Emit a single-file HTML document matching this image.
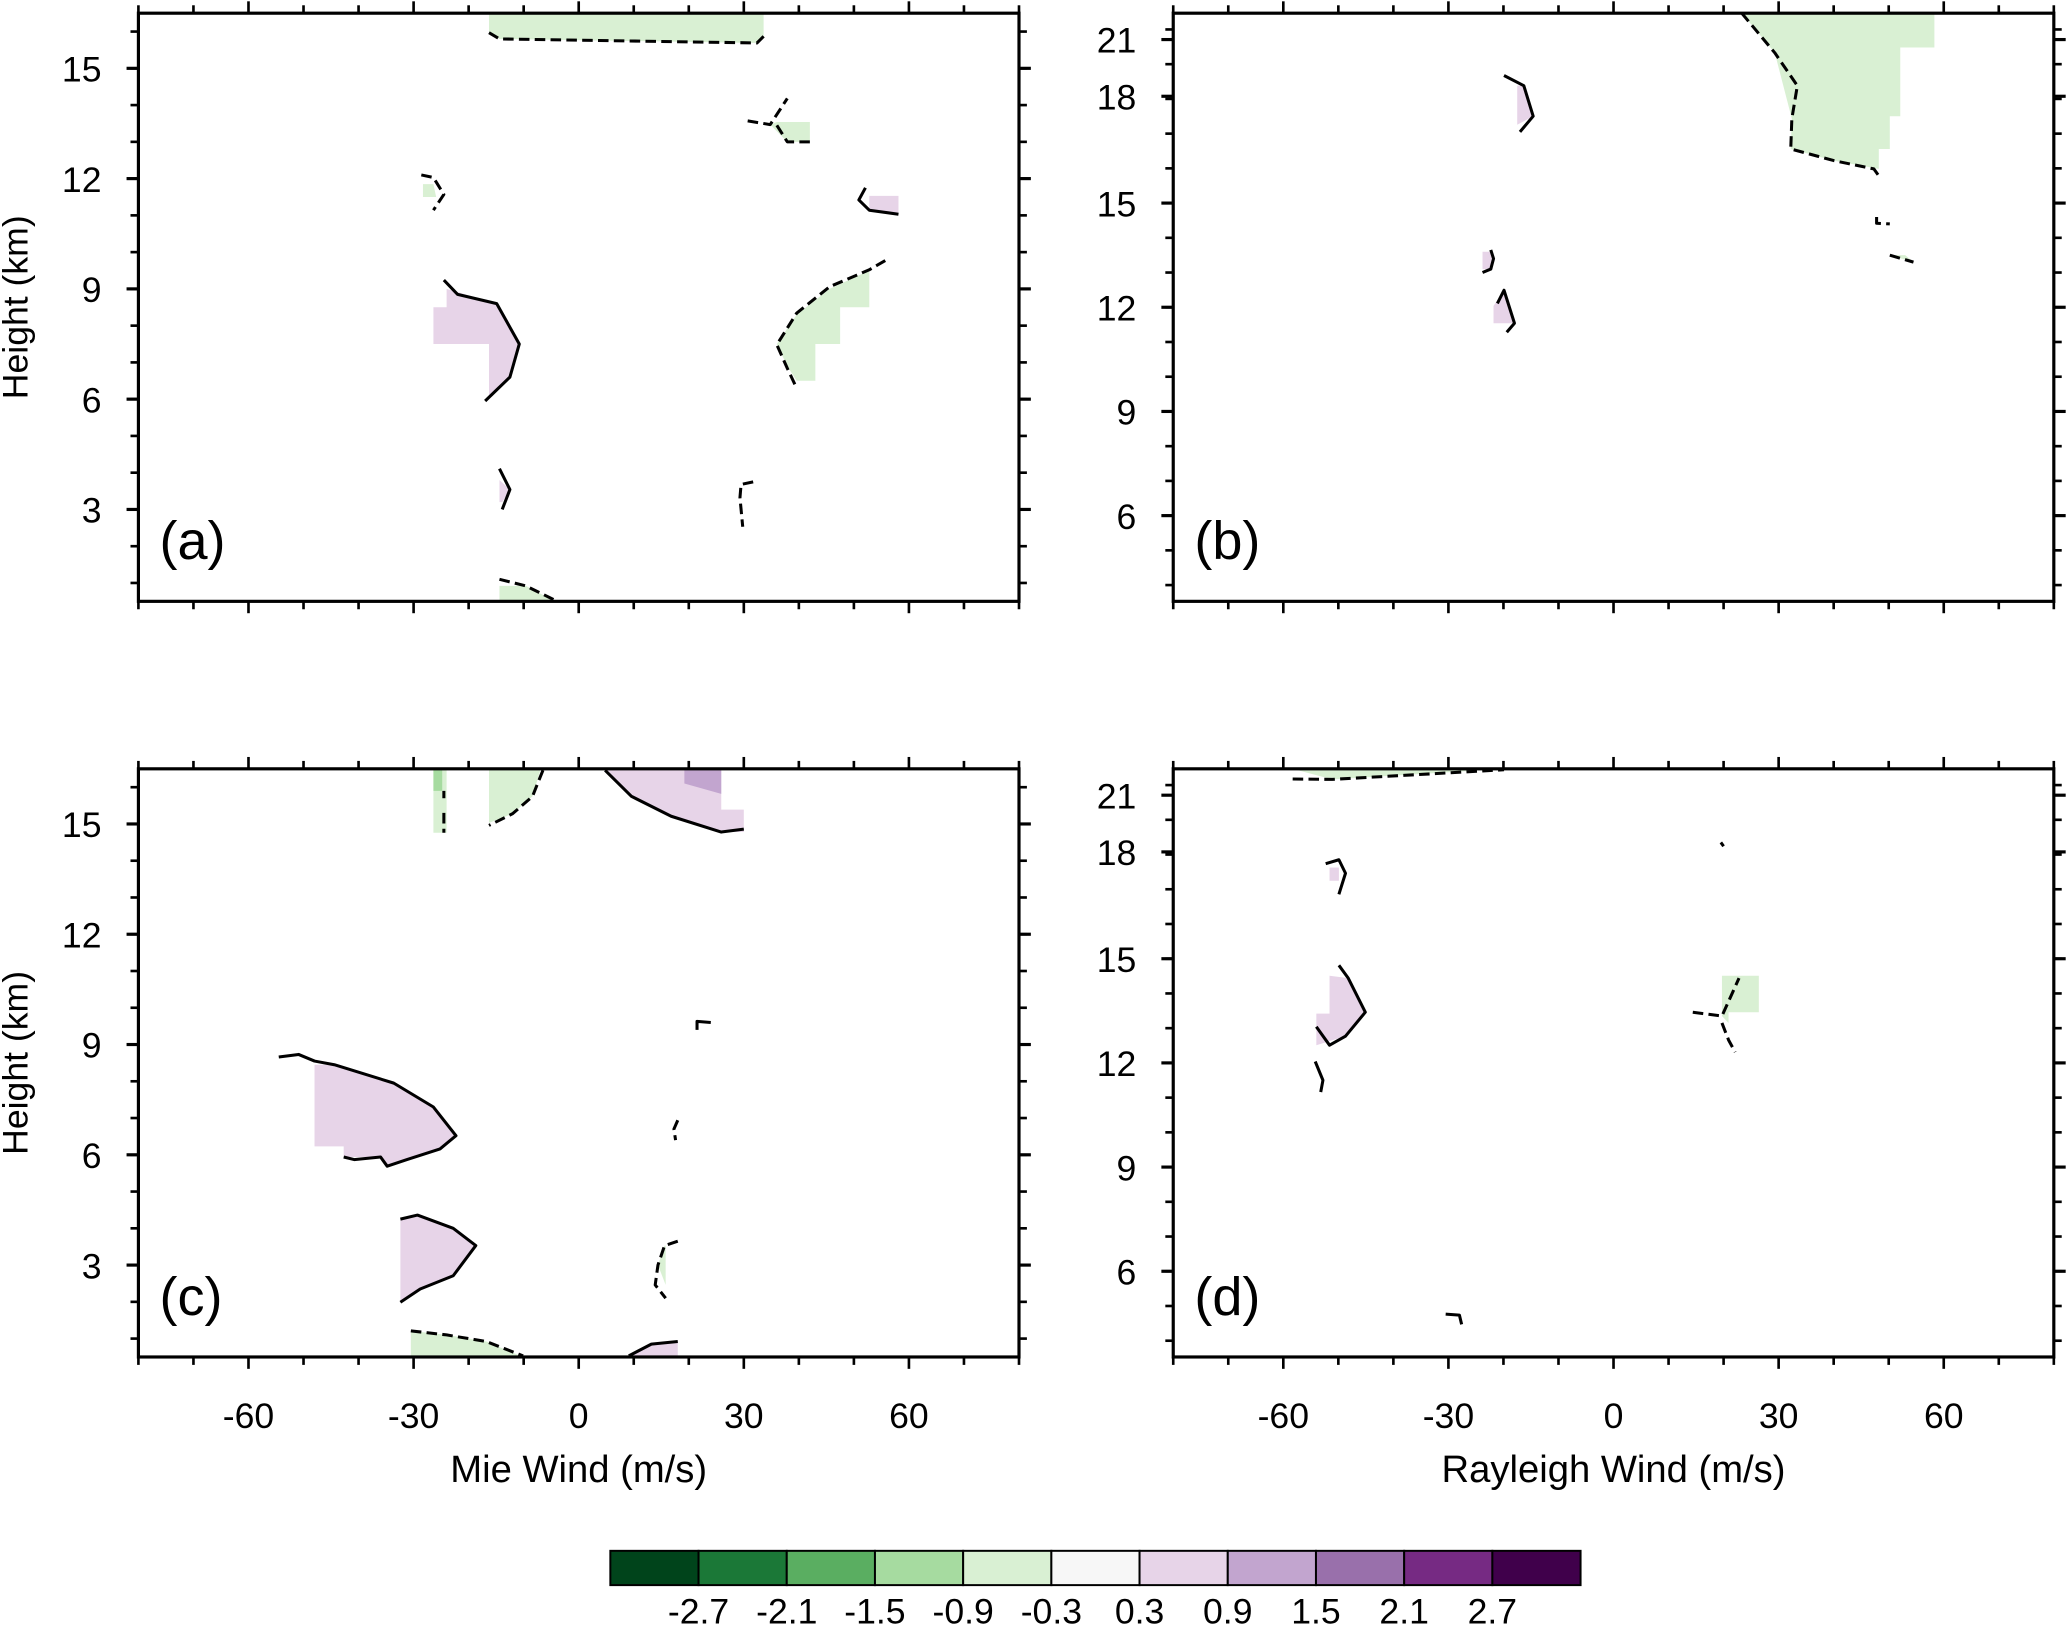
<!DOCTYPE html>
<html><head><meta charset="utf-8"><style>
html,body{margin:0;padding:0;background:#fff;}
svg{display:block;font-family:"Liberation Sans",sans-serif;}
</style></head><body>
<svg id="fig" width="2067" height="1626" viewBox="0 0 1568 1233" preserveAspectRatio="none" xmlns="http://www.w3.org/2000/svg"></svg>
<script>
// ---- data ----
const xTicks = [-60,-30,0,30,60];
const yTicksMie = [3,6,9,12,15];
const yTicksRay = [6,9,12,15,18,21];
const rayHeights = [3.5,6,9,12,15,18,21,22.4];
const cbLabels = ["-2.7","-2.1","-1.5","-0.9","-0.3","0.3","0.9","1.5","2.1","2.7"];
const cbColors = ["#00441b","#1b7837","#5aae61","#a6dba0","#d9f0d3","#f7f7f7","#e7d4e8","#c2a5cf","#9970ab","#762a83","#40004b"];
const G="#d9f0d3", P="#e7d4e8", G2="#a6dba0", P2="#c2a5cf";
const shapesA = [
 {c:G,f:[[-16.3,16.5],[33.6,16.5],[33.6,15.87],[32.4,15.69],[-14.4,15.8],[-16.3,15.97]],l:[[-16.3,15.97],[-14.4,15.8],[32.4,15.69],[33.6,15.87]],d:1},
 {c:P,f:[[-26.4,8.5],[-24,8.5],[-24,9.0],[-14.9,8.6],[-10.8,7.5],[-12.5,6.6],[-16.3,6.0],[-16.3,7.5],[-26.4,7.5]],l:[[-24.5,9.24],[-22,8.85],[-14.9,8.6],[-10.8,7.5],[-12.5,6.6],[-17,5.95]],d:0},
 {c:G,f:[[36,7.5],[39.6,8.3],[45.6,9.0],[52.8,9.5],[52.8,8.5],[47.5,8.5],[47.5,7.5],[43,7.5],[43,6.5],[39.6,6.5],[37.9,6.9]],l:[[55.7,9.77],[52.8,9.52],[45.6,9.06],[39.6,8.34],[36,7.48],[37.9,6.84],[39.6,6.3]],d:1},
 {c:G,f:[[36,13.54],[42,13.54],[42,13],[37.9,13],[34.8,13.47]],l:[[30.7,13.57],[34.8,13.47],[37.9,14.18]],d:1},
 {c:G,f:[],l:[[36,13.45],[37.9,13],[42,13]],d:1},
 {c:P,f:[[52.8,11.53],[58.1,11.53],[58.1,11.03],[52.8,11.14]],l:[[52.1,11.75],[50.9,11.42],[52.8,11.14],[58.1,11.03]],d:0},
 {c:G,f:[[-28.3,11.85],[-26.4,11.85],[-25.9,11.5],[-28.3,11.5]],l:[[-28.6,12.1],[-26.4,12.03],[-24.5,11.57],[-26.4,11.14]],d:1},
 {c:P,f:[[-14.4,3.8],[-12.5,3.54],[-13.9,3.2],[-14.4,3.2]],l:[[-14.4,4.11],[-12.5,3.54],[-13.9,3.0]],d:0},
 {c:G,f:[],l:[[31.7,3.75],[29.5,3.68],[29.3,3.32],[29.8,2.53]],d:1},
 {c:G,f:[[-14.4,0.92],[-9.6,0.92],[-4.3,0.5],[-14.4,0.5]],l:[[-14.4,1.1],[-9.6,0.92],[-4.3,0.53]],d:1}
];
const shapesB = [
 {c:G,f:[[23.3,22.4],[58.3,22.4],[58.3,20.58],[52.1,20.58],[52.1,17.44],[50.2,17.44],[50.2,16.52],[48.2,16.52],[48.2,15.96],[40.1,16.19],[32.2,16.52],[32.4,17.37],[29.3,20.3]],l:[[23.3,22.4],[29.3,20.3],[33.4,18.56],[32.4,17.37],[32.2,16.52],[40.1,16.19],[47.3,15.96],[48.5,15.7]],d:1},
 {c:P,f:[[-17.5,18.56],[-16.3,18.56],[-14.6,17.44],[-17.5,17.2]],l:[[-19.9,19.1],[-16.3,18.56],[-14.6,17.44],[-17,17.0]],d:0},
 {c:G,f:[],l:[[47.8,14.6],[47.8,14.42],[50.2,14.4]],d:1},
 {c:G,f:[[50.2,13.5],[53,13.5],[54.5,13.3]],l:[[50.2,13.5],[54.5,13.3]],d:1},
 {c:P,f:[[-23.8,13.6],[-22,13.6],[-22.3,13.1],[-23.8,13.1]],l:[[-22.3,13.65],[-21.8,13.4],[-22.3,13.1],[-23.8,13.0]],d:0},
 {c:P,f:[[-21.8,12.04],[-19.9,12.49],[-18,11.54],[-21.8,11.54]],l:[[-21.1,12.11],[-19.9,12.49],[-18,11.54],[-19.4,11.28]],d:0}
];
const shapesC = [
 {c:G,f:[[-26.4,16.5],[-24,16.5],[-24,14.76],[-26.4,14.76]],l:[[-24.5,15.9],[-24.5,15.7]],d:1},
 {c:G2,f:[[-26.4,16.5],[-24.8,16.5],[-24.8,15.9],[-26.4,15.9]],l:[[-24.5,15.3],[-24.5,14.76]],d:1},
 {c:G,f:[[-16.3,16.5],[-6.9,16.5],[-8.4,15.75],[-12,15.28],[-16.3,15.03]],l:[[-6.5,16.46],[-8.4,15.75],[-12,15.28],[-16.3,14.96]],d:1},
 {c:P,f:[[4.8,16.5],[25.9,16.5],[25.9,15.39],[30,15.39],[30,14.78],[25.9,14.78],[16.8,15.21],[9.6,15.75]],l:[[4.8,16.46],[9.6,15.75],[16.8,15.21],[25.9,14.78],[30,14.86]],d:0},
 {c:P2,f:[[19.2,16.5],[25.9,16.5],[25.9,15.82],[19.2,16.1]],l:[],d:0},
 {c:P,f:[[-48,8.45],[-44.4,8.45],[-33.6,7.95],[-26.4,7.3],[-22.3,6.52],[-25.2,6.16],[-31.2,5.87],[-34.8,5.69],[-36,5.94],[-42.7,5.94],[-42.7,6.23],[-48,6.23]],l:[[-54.5,8.66],[-50.9,8.73],[-48,8.55],[-44.4,8.45],[-33.6,7.95],[-26.4,7.3],[-22.3,6.52],[-25.2,6.16],[-31.2,5.87],[-34.8,5.69],[-36,5.94],[-40.8,5.87],[-42.7,5.94]],d:0},
 {c:P,f:[[-32.4,4.25],[-29.3,4.36],[-22.8,4.0],[-18.7,3.53],[-22.8,2.71],[-28.8,2.35],[-32.4,1.99]],l:[[-32.4,4.25],[-29.3,4.36],[-22.8,4.0],[-18.7,3.53],[-22.8,2.71],[-28.8,2.35],[-32.4,1.99]],d:0},
 {c:G,f:[[-30.5,1.21],[-24,1.1],[-16.8,0.92],[-10.1,0.5],[-30.5,0.5]],l:[[-30.5,1.21],[-24,1.1],[-16.8,0.92],[-10.1,0.53]],d:1},
 {c:P,f:[[9.1,0.5],[13.2,0.85],[18,0.92],[18,0.5]],l:[[9.1,0.53],[13.2,0.85],[18,0.92]],d:0},
 {c:P,f:[],l:[[21.5,9.4],[21.5,9.63],[24,9.6]],d:0},
 {c:G,f:[],l:[[18,6.94],[17.3,6.7],[17.6,6.4]],d:1},
 {c:G,f:[[15.6,3.53],[15.8,3.53],[15.8,2.46],[14.4,3.0]],l:[[18,3.65],[15.6,3.53],[14.4,3.0],[13.9,2.46],[15.8,2.1]],d:1}
];
const shapesD = [
 {c:G,f:[[-58.3,22.4],[-19.9,22.4],[-51.1,21.84]],l:[[-58.3,21.86],[-51.1,21.84],[-19.9,22.35]],d:1},
 {c:P,f:[[-51.6,17.56],[-49.9,17.56],[-49.9,17.19],[-51.6,17.19]],l:[[-52.3,17.67],[-49.9,17.78],[-48.7,17.4],[-49.9,16.81]],d:0},
 {c:P,f:[[-51.6,14.51],[-48.2,14.44],[-45.1,13.46],[-48.7,12.77],[-54,12.51],[-54,13.42],[-51.6,13.42]],l:[[-49.9,14.81],[-48.2,14.44],[-45.1,13.46],[-48.7,12.77],[-51.6,12.51],[-54,13.04]],d:0},
 {c:P,f:[],l:[[-54.2,12.04],[-52.8,11.5],[-53.2,11.16]],d:0},
 {c:G,f:[[19.7,14.51],[26.4,14.51],[26.4,13.46],[20.9,13.46],[20.9,13.15],[19.7,13.35]],l:[[14.4,13.46],[19.7,13.35],[22.8,14.44]],d:1},
 {c:G,f:[],l:[[19.7,13.15],[20.9,12.66],[22.1,12.31]],d:1},
 {c:G,f:[],l:[[19.5,18.5],[20,18.3]],d:0},
 {c:G,f:[],l:[[-30.5,4.75],[-28,4.72],[-27.6,4.45]],d:0}
];
// ---- layout ----
const svg=document.getElementById('fig');
const NS="http://www.w3.org/2000/svg";
function mk(tag,attrs,parent){const e=document.createElementNS(NS,tag);for(const k in attrs)e.setAttribute(k,attrs[k]);(parent||svg).appendChild(e);return e;}
const panels=[
 {id:'a',x0:105,x1:773,y0:10,y1:456,kind:'mie',shapes:shapesA,xl:false},
 {id:'b',x0:890,x1:1558,y0:10,y1:456,kind:'ray',shapes:shapesB,xl:false},
 {id:'c',x0:105,x1:773,y0:583,y1:1029,kind:'mie',shapes:shapesC,xl:'Mie Wind (m/s)'},
 {id:'d',x0:890,x1:1558,y0:583,y1:1029,kind:'ray',shapes:shapesD,xl:'Rayleigh Wind (m/s)'}
];
const rayPx=[456,391,312,233,154,73,30,10];
panels.forEach(p=>{
 const g=mk('g',{});
 
 
 const sx=v=>p.x0+(v+80)/160*(p.x1-p.x0);
 const sy=p.kind==='mie'?(v=>p.y1-(v-0.5)/16*(p.y1-p.y0)):(v=>{
   for(let i=0;i<rayHeights.length-1;i++){if(v<=rayHeights[i+1]||i===rayHeights.length-2){const t=(v-rayHeights[i])/(rayHeights[i+1]-rayHeights[i]);return p.y0+rayPx[i]-10+t*(rayPx[i+1]-rayPx[i]);}}
 });
 p.shapes.forEach((s,i)=>{
  if(s.f.length){const pg=mk('polygon',{points:s.f.map(q=>sx(q[0])+','+sy(q[1])).join(' '),fill:s.c,stroke:'none'},g);
   
   }
  if(s.l.length){const pl=mk('polyline',{points:s.l.map(q=>sx(q[0])+','+sy(q[1])).join(' '),fill:'none',stroke:'#000','stroke-width':2.3,'stroke-dasharray':s.d?'8,4':'none','stroke-linejoin':'round'},g);
   
   }
 });
 const fr=mk('rect',{x:p.x0,y:p.y0,width:p.x1-p.x0,height:p.y1-p.y0,fill:'none',stroke:'#000','stroke-width':2.4},g);
 
 
 for(let v=-80;v<=80;v+=10){
  const maj=xTicks.includes(v), L=maj?9:6, x=sx(v);
  mk('line',{x1:x,x2:x,y1:p.y1,y2:p.y1+L,stroke:'#000','stroke-width':2},g);
  mk('line',{x1:x,x2:x,y1:p.y0,y2:p.y0-L,stroke:'#000','stroke-width':2},g);
 }
 if(p.xl){
  xTicks.forEach(v=>{const t=mk('text',{x:sx(v),y:p.y1+54,'font-size':27,'text-anchor':'middle'},g);t.textContent=v;
   });
  const t=mk('text',{x:(p.x0+p.x1)/2,y:p.y1+95,'font-size':29,'text-anchor':'middle'},g);t.textContent=p.xl;
  
 }
 const yt=p.kind==='mie'?yTicksMie:yTicksRay;
 let minorPx=[];
 if(p.kind==='mie'){for(let v=1;v<=16;v++)minorPx.push(sy(v));}
 else{const s6=sy(6),step=(sy(6)-sy(9))/3;for(let y=s6+step*2;y>p.y0;y-=step)minorPx.push(y);}
 minorPx.forEach(y=>{if(y<p.y0-1||y>p.y1+1)return;
  mk('line',{x1:p.x0,x2:p.x0-6,y1:y,y2:y,stroke:'#000','stroke-width':2},g);
  mk('line',{x1:p.x1,x2:p.x1+6,y1:y,y2:y,stroke:'#000','stroke-width':2},g);});
 yt.forEach(v=>{const y=sy(v);
  mk('line',{x1:p.x0,x2:p.x0-9,y1:y,y2:y,stroke:'#000','stroke-width':2.4},g);
  mk('line',{x1:p.x1,x2:p.x1+9,y1:y,y2:y,stroke:'#000','stroke-width':2.4},g);
  const t=mk('text',{x:p.x0-28,y:y+10,'font-size':27,'text-anchor':'end'},g);t.textContent=v;
  });
 if(p.kind==='mie'){const cy=(p.y0+p.y1)/2;const t=mk('text',{x:0,y:0,'font-size':27,'text-anchor':'middle',transform:'translate(21,'+cy+') rotate(-90)'},g);t.textContent='Height (km)';
  }
 const lb=mk('text',{x:p.x0+16,y:p.y1-32,'font-size':41},g);lb.textContent='('+p.id+')';
 
});
const cb=mk('g',{});


const cbx0=463,cbw=(1199-463)/cbColors.length;
cbColors.forEach((c,i)=>{const r=mk('rect',{x:cbx0+i*cbw,y:1176,width:cbw,height:26,fill:c,stroke:'#000','stroke-width':1.5},cb);
 });
cbLabels.forEach((s,i)=>{const t=mk('text',{x:cbx0+(i+1)*cbw,y:1231,'font-size':27,'text-anchor':'middle'},cb);t.textContent=s;
 });
</script>
</body></html>
